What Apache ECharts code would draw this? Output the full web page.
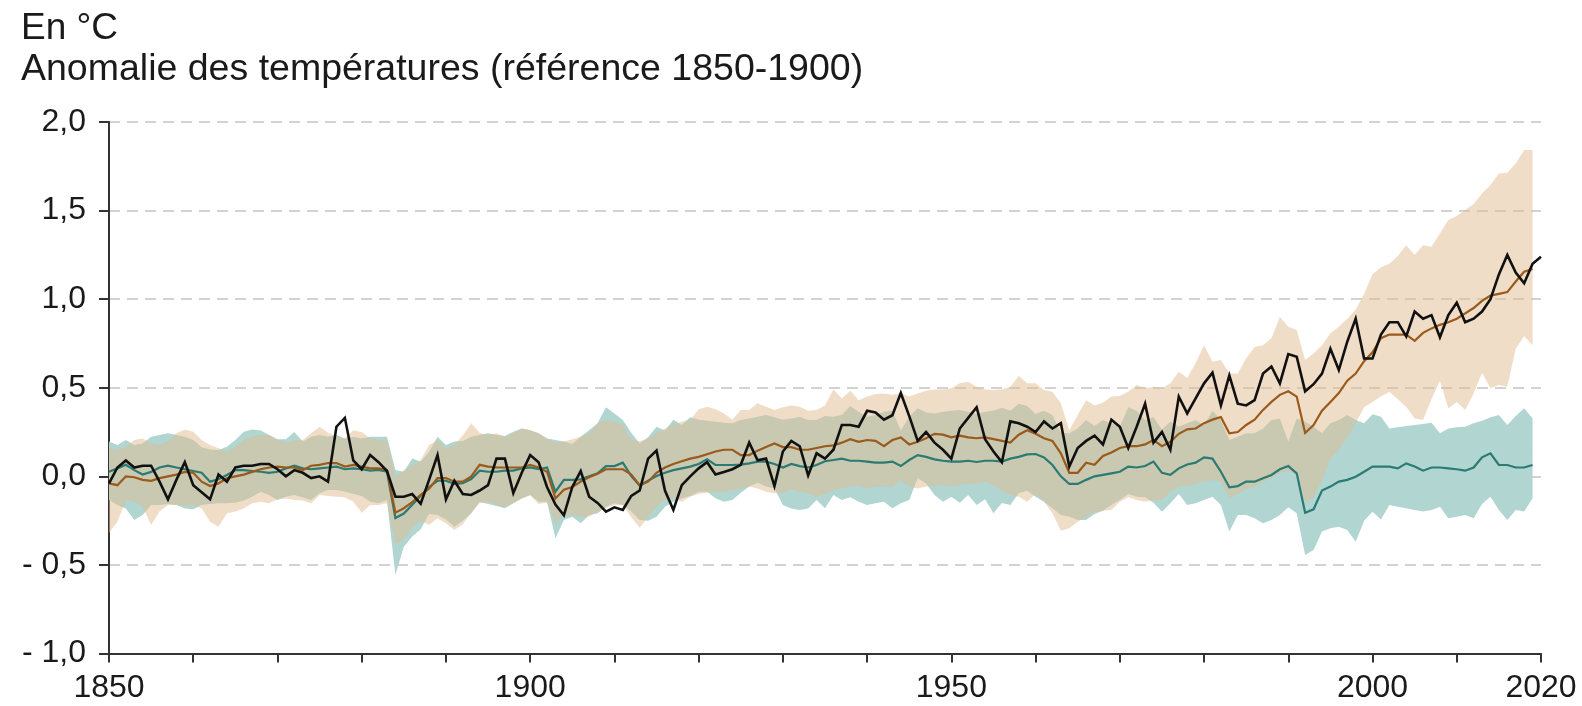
<!DOCTYPE html>
<html>
<head>
<meta charset="utf-8">
<script src="https://cdn.jsdelivr.net/npm/echarts@6.0.0/dist/echarts.min.js"></script>
<style>
  html, body { margin: 0; padding: 0; background: #fff; }
  #chart { width: 1582px; height: 706px; }
</style>
</head>
<body>
<div id="chart"></div>
<script>
// ---- données (anomalie en °C, réf. 1850-1900) ----
const firstYear = 1850;
const tickYears = [1850, 1900, 1950, 2000, 2020];

// observations, 1850-2020
const observed = [
  -0.04, 0.05, 0.09, 0.05, 0.06, 0.06, -0.03, -0.13, -0.02, 0.08,
  -0.05, -0.09, -0.13, 0.01, -0.03, 0.05, 0.06, 0.06, 0.07, 0.07,
  0.04, 0.00, 0.035, 0.02, -0.01, 0.00, -0.03, 0.28, 0.33, 0.09,
  0.04, 0.12, 0.08, 0.03, -0.115, -0.115, -0.10, -0.155, -0.02, 0.12,
  -0.13, -0.025, -0.10, -0.105, -0.08, -0.05, 0.10, 0.10, -0.095, 0.02,
  0.12, 0.08, -0.06, -0.16, -0.22, -0.06, 0.03, -0.115, -0.15, -0.20,
  -0.175, -0.19, -0.11, -0.08, 0.10, 0.145, -0.08, -0.19, -0.05, 0.00,
  0.045, 0.08, 0.01, 0.025, 0.04, 0.065, 0.19, 0.09, 0.10, -0.055,
  0.14, 0.20, 0.17, 0.005, 0.13, 0.10, 0.15, 0.29, 0.29, 0.28,
  0.37, 0.36, 0.32, 0.345, 0.47, 0.34, 0.20, 0.25, 0.19, 0.15,
  0.10, 0.27, 0.33, 0.39, 0.21, 0.14, 0.08, 0.31, 0.30, 0.28,
  0.25, 0.31, 0.27, 0.30, 0.055, 0.16, 0.20, 0.23, 0.18, 0.32,
  0.28, 0.16, 0.28, 0.41, 0.19, 0.25, 0.15, 0.45, 0.355, 0.44,
  0.525, 0.585, 0.40, 0.57, 0.41, 0.40, 0.43, 0.58, 0.62, 0.525,
  0.69, 0.675, 0.48, 0.52, 0.58, 0.72, 0.60, 0.76, 0.89, 0.665,
  0.665, 0.80, 0.87, 0.87, 0.79, 0.93, 0.89, 0.91, 0.785, 0.91,
  0.98, 0.87, 0.89, 0.93, 1.00, 1.14, 1.25, 1.15, 1.09, 1.20,
  1.24
];

// simulations facteurs humains + naturels, 1850-2019 (moyenne, bornes)
const humanMean = [
  -0.04, -0.05, 0.0, -0.005, -0.02, -0.025, -0.01, 0.0, 0.01, 0.025,
  0.02, -0.03, -0.055, -0.04, -0.01, 0.0, 0.01, 0.025, 0.04, 0.05,
  0.055, 0.05, 0.05, 0.035, 0.06, 0.065, 0.075, 0.075, 0.055, 0.065,
  0.055, 0.045, 0.045, 0.035, -0.205, -0.18, -0.145, -0.105, -0.07, -0.01,
  -0.01, -0.03, -0.03, 0.0, 0.065, 0.055, 0.05, 0.05, 0.05, 0.05,
  0.065, 0.05, 0.026, -0.125, -0.075, -0.06, -0.03, -0.005, 0.015, 0.04,
  0.04, 0.04, 0.01, -0.05, -0.03, 0.02, 0.05, 0.07, 0.085, 0.10,
  0.11, 0.125, 0.14, 0.15, 0.15, 0.12, 0.12, 0.145, 0.165, 0.185,
  0.165, 0.165, 0.15, 0.15, 0.16, 0.17, 0.175, 0.19, 0.21, 0.195,
  0.205, 0.20, 0.17, 0.205, 0.22, 0.18, 0.195, 0.215, 0.24, 0.235,
  0.22, 0.23, 0.22, 0.215, 0.22, 0.21, 0.20, 0.19, 0.235, 0.26,
  0.24, 0.215, 0.20, 0.13, 0.02, 0.02, 0.077, 0.065, 0.115, 0.135,
  0.16, 0.17, 0.17, 0.18, 0.205, 0.17, 0.195, 0.24, 0.265, 0.27,
  0.30, 0.32, 0.335, 0.243, 0.25, 0.29, 0.32, 0.375, 0.42, 0.46,
  0.48, 0.45, 0.245, 0.29, 0.37, 0.42, 0.47, 0.54, 0.58, 0.65,
  0.70, 0.78, 0.80, 0.80, 0.80, 0.765, 0.81, 0.835, 0.855, 0.87,
  0.89, 0.92, 0.95, 0.99, 1.02, 1.03, 1.04, 1.10, 1.155, 1.17
];
const humanHigh = [
  0.158, 0.149, 0.167, 0.205, 0.214, 0.186, 0.177, 0.196, 0.243, 0.265,
  0.252, 0.205, 0.177, 0.158, 0.139, 0.167, 0.205, 0.224, 0.233, 0.233,
  0.205, 0.19, 0.205, 0.205, 0.243, 0.28, 0.246, 0.224, 0.214, 0.26,
  0.25, 0.214, 0.205, 0.205, -0.006, 0.036, 0.058, 0.092, 0.177, 0.205,
  0.158, 0.177, 0.23, 0.30, 0.246, 0.233, 0.243, 0.224, 0.243, 0.27,
  0.26, 0.243, 0.214, 0.19, 0.196, 0.209, 0.224, 0.243, 0.30, 0.318,
  0.31, 0.29, 0.205, 0.20, 0.214, 0.243, 0.27, 0.29, 0.31, 0.318,
  0.378, 0.393, 0.378, 0.355, 0.32, 0.374, 0.374, 0.412, 0.393, 0.374,
  0.39, 0.40, 0.393, 0.37, 0.374, 0.40, 0.49, 0.44, 0.483, 0.43,
  0.45, 0.465, 0.468, 0.46, 0.468, 0.45, 0.468, 0.483, 0.49, 0.49,
  0.497, 0.525, 0.534, 0.506, 0.49, 0.487, 0.49, 0.505, 0.566, 0.525,
  0.525, 0.487, 0.478, 0.412, 0.26, 0.346, 0.43, 0.40, 0.415, 0.45,
  0.453, 0.478, 0.515, 0.497, 0.506, 0.497, 0.525, 0.59, 0.555, 0.64,
  0.74, 0.647, 0.656, 0.58, 0.58, 0.666, 0.73, 0.74, 0.78, 0.90,
  0.845, 0.826, 0.656, 0.694, 0.74, 0.807, 0.845, 0.89, 0.94, 1.03,
  1.14, 1.18, 1.20, 1.243, 1.305, 1.25, 1.305, 1.296, 1.37, 1.447,
  1.47, 1.503, 1.537, 1.597, 1.644, 1.71, 1.714, 1.766, 1.842, 1.842
];
const humanLow = [
  -0.32, -0.256, -0.134, -0.143, -0.171, -0.275, -0.199, -0.162, -0.162, -0.167,
  -0.162, -0.181, -0.256, -0.284, -0.209, -0.199, -0.181, -0.152, -0.143, -0.152,
  -0.13, -0.125, -0.134, -0.137, -0.152, -0.105, -0.111, -0.115, -0.119, -0.143,
  -0.205, -0.162, -0.162, -0.152, -0.382, -0.36, -0.284, -0.25, -0.275, -0.237,
  -0.265, -0.303, -0.27, -0.205, -0.152, -0.145, -0.162, -0.171, -0.152, -0.126,
  -0.107, -0.156, -0.149, -0.265, -0.218, -0.218, -0.228, -0.228, -0.20, -0.18,
  -0.162, -0.162, -0.231, -0.29, -0.23, -0.171, -0.134, -0.124, -0.143, -0.115,
  -0.10, -0.092, -0.087, -0.087, -0.077, -0.068, -0.058, -0.068, -0.087, -0.096,
  -0.096, -0.073, -0.087, -0.096, -0.115, -0.10, -0.077, -0.068, -0.058, -0.053,
  -0.068, -0.058, -0.058, -0.058, -0.024, -0.058, -0.068, -0.058, -0.055, -0.049,
  -0.058, -0.049, -0.043, -0.04, -0.03, -0.05, -0.08, -0.105, -0.115, -0.143,
  -0.10, -0.143, -0.209, -0.307, -0.293, -0.256, -0.231, -0.20, -0.194, -0.19,
  -0.143, -0.118, -0.134, -0.143, -0.134, -0.134, -0.087, -0.06, -0.055, -0.04,
  -0.03, -0.02, -0.03, -0.12, -0.10, -0.07, -0.06, -0.03, -0.01, 0.02,
  0.03, 0.01, -0.15, -0.12, -0.02, 0.10, 0.15, 0.22, 0.30, 0.39,
  0.42, 0.45, 0.478, 0.435, 0.393, 0.327, 0.32, 0.435, 0.54, 0.384,
  0.42, 0.374, 0.468, 0.585, 0.497, 0.515, 0.506, 0.72, 0.79, 0.74
];

// simulations facteurs naturels seuls, 1850-2019
const naturalMean = [
  0.026, 0.045, 0.065, 0.035, 0.01, 0.025, 0.05, 0.06, 0.05, 0.04,
  0.03, 0.02, -0.03, -0.017, 0.008, 0.035, 0.035, 0.03, 0.026, 0.02,
  0.026, 0.045, 0.06, 0.045, 0.04, 0.045, 0.05, 0.055, 0.04, 0.045,
  0.04, 0.032, 0.036, 0.026, -0.235, -0.21, -0.16, -0.11, -0.06, -0.025,
  -0.025, -0.043, -0.038, -0.015, 0.032, 0.026, 0.026, 0.032, 0.032, 0.045,
  0.05, 0.04, 0.05, -0.087, -0.02, -0.02, -0.017, 0.0, 0.017, 0.058,
  0.058, 0.077, 0.002, -0.052, -0.025, 0.002, 0.02, 0.035, 0.045, 0.055,
  0.07, 0.096, 0.064, 0.064, 0.064, 0.066, 0.073, 0.083, 0.083, 0.07,
  0.05, 0.07, 0.058, 0.05, 0.064, 0.085, 0.092, 0.10, 0.088, 0.088,
  0.083, 0.077, 0.077, 0.083, 0.058, 0.092, 0.12, 0.11, 0.096, 0.088,
  0.083, 0.083, 0.088, 0.081, 0.088, 0.088, 0.083, 0.10, 0.11, 0.124,
  0.126, 0.107, 0.064, 0.0, -0.043, -0.043, -0.02, 0.0, 0.008, 0.017,
  0.026, 0.055, 0.05, 0.058, 0.083, 0.02, 0.008, 0.045, 0.067, 0.077,
  0.107, 0.10, 0.026, -0.062, -0.055, -0.03, -0.03, -0.011, 0.008, 0.04,
  0.058, 0.017, -0.205, -0.186, -0.08, -0.058, -0.03, -0.02, -0.002, 0.026,
  0.055, 0.055, 0.055, 0.045, 0.073, 0.055, 0.032, 0.05, 0.05, 0.045,
  0.04, 0.032, 0.05, 0.107, 0.13, 0.064, 0.064, 0.05, 0.05, 0.064
];
const naturalHigh = [
  0.196, 0.177, 0.205, 0.177, 0.186, 0.224, 0.233, 0.243, 0.233, 0.224,
  0.205, 0.164, 0.152, 0.149, 0.167, 0.205, 0.252, 0.265, 0.258, 0.233,
  0.209, 0.21, 0.25, 0.196, 0.224, 0.233, 0.224, 0.233, 0.214, 0.224,
  0.214, 0.224, 0.224, 0.224, 0.036, 0.026, 0.10, 0.083, 0.139, 0.224,
  0.177, 0.196, 0.20, 0.224, 0.233, 0.243, 0.233, 0.228, 0.252, 0.27,
  0.26, 0.243, 0.214, 0.205, 0.196, 0.182, 0.224, 0.26, 0.30, 0.39,
  0.355, 0.318, 0.246, 0.186, 0.22, 0.28, 0.258, 0.32, 0.29, 0.333,
  0.32, 0.314, 0.308, 0.303, 0.30, 0.318, 0.327, 0.337, 0.346, 0.333,
  0.32, 0.327, 0.337, 0.318, 0.318, 0.34, 0.337, 0.346, 0.397, 0.365,
  0.337, 0.346, 0.365, 0.37, 0.258, 0.337, 0.384, 0.36, 0.355, 0.365,
  0.37, 0.374, 0.365, 0.352, 0.365, 0.37, 0.387, 0.37, 0.41, 0.397,
  0.352, 0.37, 0.346, 0.246, 0.243, 0.27, 0.318, 0.284, 0.318, 0.30,
  0.28, 0.39, 0.37, 0.318, 0.333, 0.265, 0.308, 0.28, 0.30, 0.318,
  0.29, 0.37, 0.318, 0.205, 0.224, 0.243, 0.243, 0.27, 0.318, 0.327,
  0.196, 0.327, 0.308, 0.28, 0.243, 0.30, 0.318, 0.346, 0.318, 0.30,
  0.35, 0.337, 0.27, 0.277, 0.284, 0.29, 0.295, 0.303, 0.243, 0.27,
  0.277, 0.28, 0.30, 0.314, 0.333, 0.346, 0.29, 0.34, 0.384, 0.327
];
const naturalLow = [
  -0.134, -0.162, -0.181, -0.246, -0.218, -0.162, -0.162, -0.156, -0.162, -0.181,
  -0.186, -0.162, -0.156, -0.152, -0.152, -0.149, -0.137, -0.115, -0.087, -0.105,
  -0.134, -0.115, -0.105, -0.119, -0.134, -0.096, -0.077, -0.077, -0.087, -0.10,
  -0.111, -0.143, -0.152, -0.134, -0.557, -0.397, -0.34, -0.299, -0.213, -0.218,
  -0.243, -0.284, -0.25, -0.209, -0.143, -0.156, -0.167, -0.18, -0.152, -0.124,
  -0.105, -0.143, -0.143, -0.35, -0.246, -0.228, -0.265, -0.218, -0.209, -0.171,
  -0.152, -0.162, -0.199, -0.246, -0.25, -0.228, -0.171, -0.143, -0.124, -0.111,
  -0.087, -0.087, -0.124, -0.143, -0.134, -0.092, -0.058, -0.036, -0.058, -0.068,
  -0.162, -0.181, -0.19, -0.181, -0.134, -0.18, -0.105, -0.134, -0.118, -0.143,
  -0.162, -0.152, -0.143, -0.18, -0.152, -0.134, -0.011, -0.04, -0.105, -0.143,
  -0.115, -0.149, -0.105, -0.162, -0.13, -0.209, -0.15, -0.162, -0.096, -0.081,
  -0.115, -0.143, -0.18, -0.218, -0.228, -0.246, -0.246, -0.213, -0.194, -0.162,
  -0.134, -0.10, -0.115, -0.118, -0.149, -0.20, -0.152, -0.10, -0.162, -0.152,
  -0.134, -0.115, -0.162, -0.312, -0.218, -0.218, -0.237, -0.265, -0.246, -0.218,
  -0.175, -0.209, -0.444, -0.416, -0.312, -0.293, -0.284, -0.303, -0.369, -0.25,
  -0.20, -0.243, -0.162, -0.171, -0.18, -0.19, -0.199, -0.19, -0.171, -0.237,
  -0.228, -0.218, -0.237, -0.156, -0.115, -0.19, -0.246, -0.19, -0.199, -0.124
];

// couleurs
const colObserved = '#111111';
const colHuman = '#9a5a1c';
const colHumanBand = 'rgb(225,187,143)';
const colNatural = '#2b7a73';
const colNaturalBand = '#b1d5d1';
const font = '"Liberation Sans", Arial, Helvetica, sans-serif';

/* ---------- helpers ---------- */
const pairs = (arr) => arr.map((v, i) => [firstYear + i, v]);

// bande min-max : un seul polygone, placé par les échelles de la grille
function bandSeries(name, lo, hi, color, opacity) {
  const rows = lo.map((v, i) => [firstYear + i, v, hi[i]]);
  return {
    name: name, type: 'custom', silent: true, z: 1,
    data: rows,
    encode: { x: 0, y: [1, 2] },
    renderItem: function (params, api) {
      if (params.dataIndex !== 0) return null;
      const pts = [];
      for (let i = 0; i < rows.length; i++) pts.push(api.coord([rows[i][0], rows[i][2]]));
      for (let i = rows.length - 1; i >= 0; i--) pts.push(api.coord([rows[i][0], rows[i][1]]));
      return {
        type: 'polygon',
        shape: { points: pts },
        style: { fill: color, opacity: opacity }
      };
    }
  };
}

function lineSeries(name, arr, color, width, z) {
  return {
    name: name, type: 'line', data: pairs(arr), symbol: 'none',
    lineStyle: { color: color, width: width, join: 'miter' }, z: z
  };
}

const chart = echarts.init(document.getElementById('chart'), null, { renderer: 'canvas' });

chart.setOption({
  animation: false,
  backgroundColor: '#ffffff',
  grid: { left: 109, right: 41, top: 122, bottom: 52.5 },
  graphic: [
    {
      type: 'text', left: 21, top: 10,
      style: { text: 'En °C', font: '37px ' + font, fill: '#1a1a1a' }
    },
    {
      type: 'text', left: 21, top: 51,
      style: { text: 'Anomalie des températures (référence 1850-1900)', font: '37.5px ' + font, fill: '#1a1a1a' }
    }
  ],
  xAxis: {
    type: 'value', min: 1850, max: 2020, interval: 10,
    axisLine: { show: true, onZero: false, lineStyle: { color: '#333', width: 2 } },
    axisTick: { show: true, length: 9, lineStyle: { color: '#333', width: 2 } },
    splitLine: { show: false },
    axisLabel: {
      color: '#1a1a1a', fontSize: 32, fontFamily: font, margin: 19,
      showMinLabel: true, showMaxLabel: true,
      formatter: (v) => tickYears.includes(v) ? String(v) : ''
    }
  },
  yAxis: {
    type: 'value', min: -1, max: 2, interval: 0.5,
    axisLine: { show: true, lineStyle: { color: '#333', width: 2 } },
    axisTick: { show: true, length: 10, lineStyle: { color: '#333', width: 2 } },
    splitLine: { show: true, lineStyle: { color: '#d2d2d2', width: 2, type: [11, 7] } },
    axisLabel: {
      color: '#1a1a1a', fontSize: 32, fontFamily: font, margin: 23,
      formatter: (v) => (v < 0 ? '- ' : '') + Math.abs(v).toFixed(1).replace('.', ',')
    }
  },
  series: [
    bandSeries('naturels', naturalLow, naturalHigh, colNaturalBand, 1),
    bandSeries('humains', humanLow, humanHigh, colHumanBand, 0.5),
    lineSeries('Facteurs naturels', naturalMean, colNatural, 2.2, 3),
    lineSeries('Facteurs humains et naturels', humanMean, colHuman, 2.2, 4),
    lineSeries('Observations', observed, colObserved, 2.6, 5)
  ]
});
</script>
</body>
</html>
